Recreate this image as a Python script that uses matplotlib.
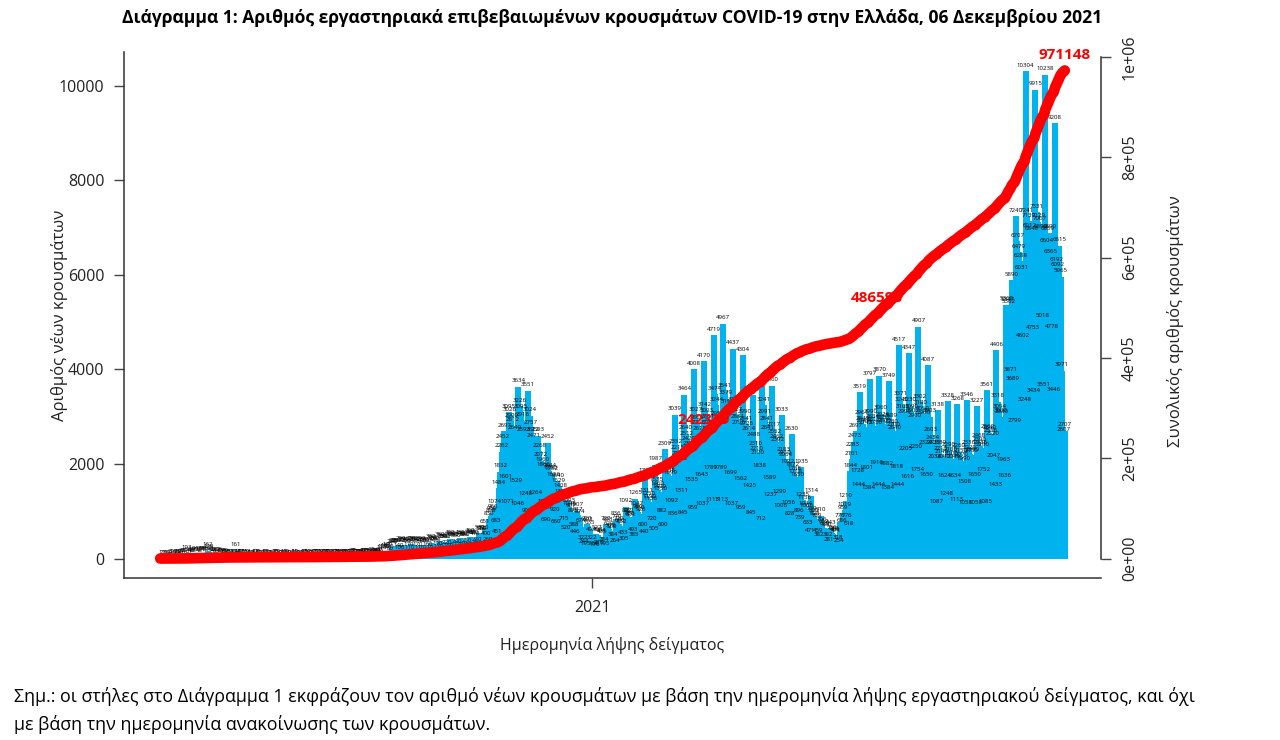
import numpy as np
import pandas as pd
import matplotlib
matplotlib.use('Agg')
import matplotlib.pyplot as plt

plt.rcParams['font.family'] = ['Open Sans', 'DejaVu Sans']

# daily new cases by sample date, one list per month (Feb 26 2020 .. Dec 6 2021)
feb_2020 = [1, 2, 1, 3]
mar_2020 = [0, 0, 0, 2, 22, 14, 0, 7, 28, 18, 10, 27, 39, 38, 6, 103, 56, 31, 46, 69, 35,
            94, 71, 71, 48, 78, 71, 95, 95, 59, 162]
apr_2020 = [129, 90, 60, 62, 41, 20, 62, 56, 33, 37, 30, 20, 49, 18, 25, 22, 11, 15, 13,
            161, 24, 16, 27, 12, 15, 10, 15, 17, 11, 9]
may_2020 = [10, 8, 6, 12, 14, 15, 10, 9, 7, 5, 18, 12, 10, 11, 9, 8, 4, 16, 15, 12, 10, 9, 7, 3,
            14, 12, 11, 10, 9, 6, 4]
jun_2020 = [14, 12, 10, 9, 11, 6, 3, 18, 15, 14, 12, 10, 7, 5, 30, 25, 22, 19, 15, 12, 8,
            28, 24, 22, 20, 18, 12, 9, 26, 22]
jul_2020 = [25, 24, 20, 15, 10, 30, 28, 26, 24, 22, 18, 12, 38, 35, 32, 30, 28, 22, 16,
            45, 42, 40, 38, 35, 28, 20, 55, 50, 48, 46, 40]
aug_2020 = [60, 40, 110, 120, 130, 150, 160, 120, 80, 230, 240, 250, 260, 250, 140, 100,
            290, 280, 270, 260, 250, 170, 110, 300, 290, 280, 270, 260, 170, 110, 290]
sep_2020 = [280, 270, 260, 250, 160, 110, 330, 310, 300, 290, 280, 190, 130, 380, 360, 350, 340,
            330, 220, 150, 420, 400, 390, 380, 360, 240, 170, 430, 410, 400]
oct_2020 = [390, 380, 250, 180, 460, 440, 430, 420, 410, 280, 200, 530, 510, 500, 520, 651, 400,
            269, 836, 898, 936, 966, 1074, 683, 451, 1484, 1832, 2262, 2452, 2697, 1601]
nov_2020 = [1071, 3095, 3026, 2900, 2812, 2640, 1529, 1046, 3634, 3226, 3095, 2916, 2593, 1248,
            900, 3551, 3024, 2757, 2612, 2471, 1264, 880, 2593, 2268, 2072, 1960, 1866, 1074,
            690, 2452]
dec_2020 = [1844, 1790, 1782, 1656, 920, 660, 1640, 1529, 1408, 1302, 1198, 715, 520, 1248, 1093,
            1046, 987, 895, 588, 446, 1007, 917, 874, 674, 322, 244, 195, 720, 693, 635, 493]
jan_2021 = [322, 188, 170, 527, 493, 210, 464, 435, 284, 195, 720, 693, 620, 578, 560, 384, 264,
            836, 770, 720, 680, 652, 433, 305, 1092, 892, 882, 836, 801, 493, 385]
feb_2021 = [1265, 1047, 980, 950, 920, 600, 440, 1729, 1311, 1250, 1190, 1136, 720, 505,
            1987, 1535, 1460, 1400, 1350, 882, 600, 2309, 1838, 1789, 1738, 1699, 1092, 836]
mar_2021 = [3039, 2352, 2215, 2105, 1982, 1311, 845, 3464, 2640, 2512, 2420, 2305, 1535, 959,
            4008, 3027, 2866, 2756, 2618, 1643, 1037, 4170, 3142, 3003, 2881, 2741, 1789, 1113,
            4719, 3474, 3244]
apr_2021 = [2950, 2741, 1789, 1113, 4967, 3541, 3379, 3190, 3002, 1699, 1037, 4437, 3244, 3027,
            2881, 2756, 1562, 959, 4304, 2990, 2841, 2726, 2614, 1425, 845, 3450, 2488, 2310,
            2210, 2120]
may_2021 = [1838, 712, 3640, 3241, 2991, 2841, 2641, 1589, 1237, 3660, 2717, 2552, 2462, 2392,
            1299, 1006, 3033, 2183, 2110, 2064, 1922, 1056, 828, 2630, 1872, 1788, 1718, 1650,
            896, 739, 1935]
jun_2021 = [1235, 1156, 1044, 1006, 633, 471, 1314, 939, 890, 828, 789, 459, 382, 910, 706, 652,
            620, 590, 382, 281, 643, 536, 510, 498, 471, 318, 254, 776, 686, 959]
jul_2021 = [1019, 1210, 776, 618, 1844, 2101, 2283, 2473, 2697, 1728, 1444, 3519, 2961, 2840,
            2789, 2743, 1801, 1384, 3797, 2990, 2884, 2812, 2750, 1910, 1444, 3870, 3060, 2924,
            2852, 2803, 1882]
aug_2021 = [1384, 3749, 2889, 2780, 2700, 2640, 1818, 1444, 4517, 3371, 3240, 3100, 2990, 2205,
            1616, 4347, 3230, 3090, 3002, 2900, 2250, 1754, 4907, 3302, 3180, 3050, 2960, 2324,
            1650, 4087, 3003]
sep_2021 = [2603, 2434, 2330, 2034, 1087, 3138, 2330, 2210, 2140, 2040, 1624, 1248, 3328, 2290,
            2180, 2100, 2040, 1634, 1113, 3268, 2260, 2150, 2070, 1990, 1508, 1058, 3346, 2336,
            2220, 2150]
oct_2021 = [2190, 1650, 1058, 3227, 2468, 2390, 2336, 2280, 1752, 1085, 3561, 2662, 2640, 2586,
            2520, 2047, 1433, 4406, 3318, 3094, 3000, 2980, 1963, 1636, 5369, 5347, 5302, 3871,
            5890, 3689, 2799]
nov_2021 = [7240, 6707, 6479, 6288, 6031, 4602, 3248, 10304, 7241, 7139, 6912, 6848, 4753, 3434,
            9915, 7331, 7129, 7067, 6890, 5018, 3551, 10238, 6604, 6859, 6890, 6365, 4778, 3446,
            9208, 6192]
dec_2021 = [6092, 6615, 5965, 3971, 2607, 2707]

cases = np.array(feb_2020 + mar_2020 + apr_2020 + may_2020 + jun_2020 + jul_2020 + aug_2020
                 + sep_2020 + oct_2020 + nov_2020 + dec_2020 + jan_2021 + feb_2021 + mar_2021
                 + apr_2021 + may_2021 + jun_2021 + jul_2021 + aug_2021 + sep_2021 + oct_2021
                 + nov_2021 + dec_2021)
dates = pd.date_range('2020-02-26', periods=len(cases), freq='D')
day = np.arange(len(cases))
total = np.cumsum(cases)

# cumulative values printed on the red line
label_dates = ['2021-03-22', '2021-07-24', '2021-12-06']
label_texts = ['242329', '486598', '971148']

right_ticks = [0, 200000, 400000, 600000, 800000, 1000000]
right_ticklabels = ['0e+00', '2e+05', '4e+05', '6e+05', '8e+05', '1e+06']

fig = plt.figure(figsize=(12.8, 7.4), dpi=100)
ax = fig.add_axes([124 / 1280, 1 - 578 / 740, 977 / 1280, 526 / 740])

ax.vlines(day, 0, cases, color='#00B2EE', lw=4.3, capstyle='butt')
for d, v in zip(day, cases):
    ax.annotate(str(v), (d, v), xytext=(0, 2.5), textcoords='offset points',
                ha='center', va='bottom', fontsize=4.4, color='black')

ax.set_xlim(-26, 675)
ax.set_ylim(-412, 10716)
ax.set_yticks(range(0, 10001, 2000))
jan1 = (pd.Timestamp('2021-01-01') - dates[0]).days
ax.set_xticks([jan1])
ax.set_xticklabels(['2021'])
ax.tick_params(axis='both', direction='out', length=7, width=1, pad=7, labelsize=11.5,
               color='#444444', labelcolor='#222222')
ax.tick_params(axis='x', pad=9)
ax.spines['top'].set_visible(False)
ax.spines['right'].set_visible(False)
for s in ['left', 'bottom']:
    ax.spines[s].set_color('#333333')
    ax.spines[s].set_linewidth(1.1)

ax2 = ax.twinx()
ax2.plot(day, total, color='red', lw=7.7, solid_capstyle='round')
ax2.set_ylim(-38846, 1009994)
ax2.set_yticks(right_ticks)
ax2.set_yticklabels(right_ticklabels, rotation=90, va='center', ha='left')
ax2.tick_params(axis='y', direction='out', length=7, width=1, pad=8, labelsize=11.5,
                color='#444444', labelcolor='#222222')
for s in ['top', 'left', 'bottom']:
    ax2.spines[s].set_visible(False)
ax2.spines['right'].set_bounds(0, 1000000)
ax2.spines['right'].set_color('#333333')
ax2.spines['right'].set_linewidth(1.1)

for dt, txt in zip(label_dates, label_texts):
    i = dates.get_loc(pd.Timestamp(dt))
    ax2.annotate(txt, (i, total[i]), xytext=(0, 11.5), textcoords='offset points',
                 ha='center', va='center', color='red', fontsize=11, fontweight='bold')

fig.text(612 / 1280, 1 - 18 / 740,
         'Διάγραμμα 1: Αριθμός εργαστηριακά επιβεβαιωμένων κρουσμάτων COVID-19 στην Ελλάδα, 06 Δεκεμβρίου 2021',
         ha='center', va='center', fontsize=12.6, fontweight='bold')
fig.text(60 / 1280, 1 - 315 / 740, 'Αριθμός νέων κρουσμάτων', rotation=90,
         ha='center', va='center', fontsize=12, color='#222222')
fig.text(1176 / 1280, 1 - 321 / 740, 'Συνολικός αριθμός κρουσμάτων', rotation=90,
         ha='center', va='center', fontsize=12, color='#222222')
fig.text(612 / 1280, 1 - 646 / 740, 'Ημερομηνία λήψης δείγματος',
         ha='center', va='center', fontsize=11.5, color='#222222')
fig.text(14 / 1280, 1 - 697 / 740,
         'Σημ.: οι στήλες στο Διάγραμμα 1 εκφράζουν τον αριθμό νέων κρουσμάτων με βάση την '
         'ημερομηνία λήψης εργαστηριακού δείγματος, και όχι',
         ha='left', va='center', fontsize=12.9)
fig.text(14 / 1280, 1 - 724 / 740, 'με βάση την ημερομηνία ανακοίνωσης των κρουσμάτων.',
         ha='left', va='center', fontsize=12.9)

fig.savefig('out.png', dpi=100)
